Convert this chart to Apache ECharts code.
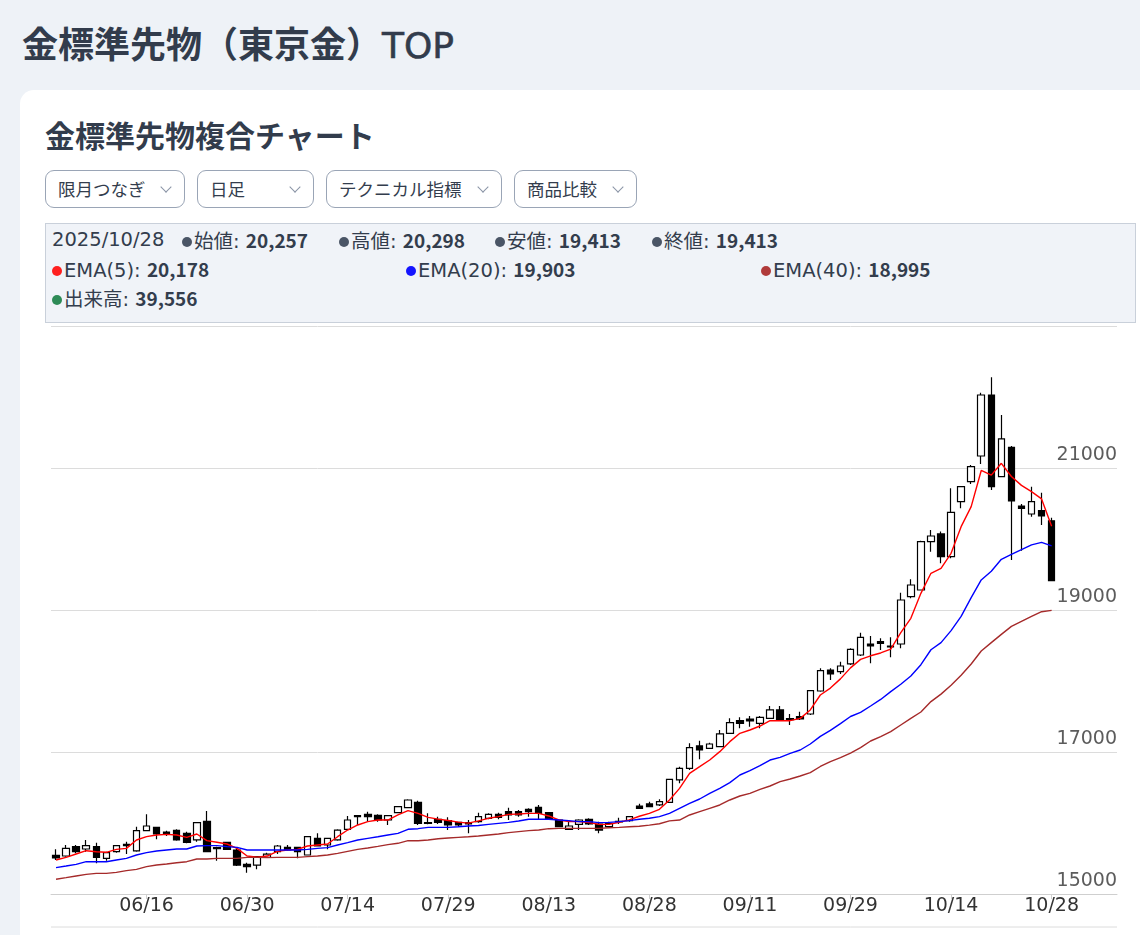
<!DOCTYPE html>
<html lang="ja">
<head>
<meta charset="utf-8">
<script src="https://cdn.jsdelivr.net/npm/echarts/dist/echarts.min.js"></script>
<style>
  html,body{margin:0;padding:0;}
  body{width:1140px;height:935px;overflow:hidden;background:#eef2f7;position:relative;
       font-family:"DejaVu Sans","Noto Sans CJK JP",sans-serif;color:#333d4d;}
  h1{position:absolute;left:22px;top:17px;margin:0;font-size:36px;line-height:50px;font-weight:700;
     font-family:"Noto Sans CJK JP",sans-serif;color:#323c4c;white-space:nowrap;}
  h1 .lat{font-family:"DejaVu Sans",sans-serif;font-weight:400;-webkit-text-stroke:0.6px #323c4c;}
  .card{position:absolute;left:20px;top:90px;width:1160px;height:900px;background:#fff;border-radius:14px;}
  h2{position:absolute;left:45px;top:112px;margin:0;font-size:30px;line-height:44px;font-weight:700;
     font-family:"Noto Sans CJK JP",sans-serif;color:#323c4c;white-space:nowrap;}
  .dd{position:absolute;top:170px;height:36px;border:1px solid #9aa5b6;border-radius:9px;box-sizing:content-box;
      font-size:17.5px;line-height:36px;font-family:"Noto Sans CJK JP",sans-serif;color:#333d4d;background:#fff;}
  .dd span.t{position:absolute;left:12px;top:0;}
  .dd i{position:absolute;top:12px;width:7px;height:7px;border-right:1.3px solid #8a94a6;border-bottom:1.3px solid #8a94a6;transform:rotate(45deg);}
  .info{position:absolute;left:45px;top:223px;width:1089px;height:98px;background:#f0f3f8;border:1px solid #c9d0da;}
  .it{position:absolute;font-size:19.5px;line-height:24px;white-space:nowrap;color:#333d4d;
      font-family:"DejaVu Sans","Noto Sans CJK JP",sans-serif;}
  .it b{font-weight:700;font-family:"Noto Sans CJK JP",sans-serif;font-size:19px;}
  .dot{display:inline-block;width:10px;height:10px;border-radius:50%;margin-right:2px;vertical-align:1px;}
  #chart{position:absolute;left:0;top:325px;width:1140px;height:610px;}
</style>
</head>
<body>
<h1>金標準先物（東京金）<span class="lat">TOP</span></h1>
<div class="card"></div>
<h2>金標準先物複合チャート</h2>
<div class="dd" style="left:45px;width:138px;"><span class="t">限月つなぎ</span><i style="left:116px"></i></div>
<div class="dd" style="left:197px;width:115px;"><span class="t">日足</span><i style="left:93px"></i></div>
<div class="dd" style="left:326px;width:174px;"><span class="t">テクニカル指標</span><i style="left:152px"></i></div>
<div class="dd" style="left:514px;width:121px;"><span class="t">商品比較</span><i style="left:99px"></i></div>
<div class="info"></div>
<div id="infoText"></div>
<div id="chart"></div>
<script>
// ---- data ----
const dates = [
 "06/03","06/04","06/05","06/06","06/09","06/10","06/11","06/12","06/13",
 "06/16","06/17","06/18","06/19","06/20","06/23","06/24","06/25","06/26","06/27",
 "06/30","07/01","07/02","07/03","07/04","07/07","07/08","07/09","07/10","07/11",
 "07/14","07/15","07/16","07/17","07/18","07/22","07/23","07/24","07/25","07/28",
 "07/29","07/30","07/31","08/01","08/04","08/05","08/06","08/07","08/08","08/12",
 "08/13","08/14","08/18","08/19","08/20","08/21","08/22","08/25","08/26","08/27",
 "08/28","08/29","09/01","09/02","09/03","09/04","09/05","09/08","09/09","09/10",
 "09/11","09/12","09/16","09/17","09/18","09/19","09/22","09/24","09/25","09/26",
 "09/29","09/30","10/01","10/02","10/03","10/06","10/07","10/08","10/09","10/10",
 "10/14","10/15","10/16","10/17","10/20","10/21","10/22","10/23","10/24","10/27",
 "10/28"
];
const opens = [
 15545,15535,15667,15634,15667,15502,15596,15681,15606,15892,
 15939,15873,15897,15854,15761,16024,15653,15728,15620,15418,
 15408,15516,15596,15657,15657,15549,15784,15690,15761,15911,
 16103,16122,16108,16042,16146,16216,16291,16005,16052,16033,
 16009,16005,16019,16066,16122,16160,16160,16192,16221,16146,
 16042,15911,15981,16052,15986,15948,16014,16033,16239,16268,
 16254,16291,16606,16770,17085,17052,17075,17263,17441,17465,
 17404,17474,17592,17470,17498,17535,17859,18155,18132,18240,
 18366,18521,18554,18493,18521,19188,19282,19963,20071,19751,
 20526,20808,21169,22028,20878,21291,20465,20352,20399,20257
];
const closes = [
 15507,15643,15596,15681,15516,15582,15681,15700,15892,15958,
 15845,15845,15761,15728,16005,15596,15639,15629,15408,15385,
 15526,15563,15676,15620,15596,15807,15676,15784,15901,16042,
 16089,16089,16042,16103,16230,16324,15995,15995,16009,15972,
 15972,15986,16089,16122,16080,16113,16113,16160,16136,16066,
 15948,15958,16042,15986,15901,15995,16023,16089,16207,16230,
 16301,16615,16770,17061,17028,17113,17254,17413,17404,17437,
 17488,17592,17451,17456,17465,17864,18146,18099,18211,18446,
 18615,18493,18531,18479,19141,19352,19963,20042,19751,20376,
 20737,21019,22028,20737,21409,20535,20432,20526,20324,19413
];
const lows = [
 15479,15526,15573,15596,15432,15470,15582,15563,15596,15892,
 15770,15817,15751,15714,15737,15596,15470,15620,15394,15300,
 15347,15516,15563,15610,15502,15549,15676,15629,15751,15901,
 15972,16019,16019,15972,16136,16216,15972,15981,15986,15901,
 15948,15854,16005,16052,16052,16042,16089,16089,16052,16052,
 15939,15901,15901,15972,15854,15939,15986,16019,16207,16221,
 16239,16286,16559,16747,16897,17042,17066,17263,17333,17357,
 17333,17465,17451,17380,17451,17521,17850,18014,18099,18226,
 18352,18249,18437,18333,18460,19164,19282,19822,19658,19728,
 20432,20775,21057,20690,20869,19704,19836,20315,20197,19413
];
const highs = [
 15629,15690,15690,15761,15723,15596,15690,15737,15948,16122,
 15939,15892,15911,15878,16005,16169,15667,15732,15643,15441,
 15535,15582,15690,15690,15667,15817,15854,15793,15911,16099,
 16113,16160,16122,16103,16239,16333,16315,16136,16089,16080,
 16019,16042,16146,16136,16146,16216,16183,16207,16253,16146,
 16052,16019,16052,16066,16019,16019,16075,16099,16270,16301,
 16333,16615,16794,17122,17160,17132,17310,17474,17488,17507,
 17507,17648,17648,17535,17568,17873,18179,18178,18272,18460,
 18681,18634,18601,18615,19244,19432,19977,20127,20104,20714,
 20737,21042,22061,22277,21747,21310,20493,20737,20653,20298
];
const ema5 = [
 15479,15516,15563,15610,15596,15587,15629,15643,15761,15808,
 15831,15840,15831,15798,15845,15751,15728,15704,15643,15535,
 15520,15535,15600,15620,15629,15676,15690,15704,15807,15901,
 15972,16019,16042,16042,16113,16174,16136,16080,16055,16035,
 16012,15998,16030,16066,16089,16122,16127,16136,16136,16099,
 16042,16019,16019,16005,15981,15981,16010,16045,16095,16136,
 16193,16324,16488,16700,16793,16887,17005,17146,17263,17310,
 17366,17441,17441,17441,17474,17592,17803,17900,18030,18185,
 18305,18355,18395,18450,18680,18883,19235,19517,19587,19798,
 20174,20456,20965,20900,21066,20880,20755,20667,20565,20178
];
const ema20 = [
 15371,15394,15418,15455,15455,15455,15479,15502,15549,15582,
 15606,15620,15634,15634,15676,15681,15681,15667,15657,15620,
 15620,15620,15620,15620,15620,15629,15643,15653,15690,15723,
 15761,15784,15807,15831,15854,15911,15920,15939,15939,15939,
 15948,15958,15965,15981,15995,16009,16028,16052,16052,16052,
 16042,16033,16019,16019,16005,16009,16019,16033,16052,16066,
 16089,16136,16207,16277,16338,16418,16488,16568,16676,16737,
 16808,16887,16925,16981,17028,17113,17220,17305,17400,17500,
 17559,17648,17740,17850,17955,18070,18230,18440,18540,18710,
 18910,19174,19423,19545,19714,19784,19850,19918,19953,19903
];
const ema40 = [
 15207,15230,15254,15277,15291,15291,15305,15329,15347,15385,
 15408,15423,15441,15455,15493,15493,15502,15502,15502,15516,
 15516,15512,15516,15516,15516,15526,15535,15549,15573,15601,
 15629,15648,15671,15695,15714,15751,15751,15761,15779,15789,
 15798,15807,15817,15831,15845,15864,15878,15892,15901,15920,
 15925,15925,15925,15925,15925,15934,15939,15948,15955,15970,
 15990,16030,16042,16113,16160,16207,16254,16324,16380,16418,
 16474,16521,16582,16620,16662,16709,16796,16865,16920,16985,
 17061,17155,17216,17286,17380,17474,17563,17710,17815,17940,
 18080,18240,18423,18540,18657,18770,18840,18911,18976,18995
];
const lastVolume = 39556;
const yTicks = [15000, 17000, 19000, 21000, 23000];
const blankSlots = 6;

// ---- info panel ----
const n = dates.length - 1;
const fmt = v => Math.round(v).toLocaleString('en-US');
const items = [
  {x:52,  y:228, html:'2025/' + dates[n]},
  {x:182, y:228, dot:'#4a5566', html:'始値: <b>'+fmt(opens[n])+'</b>'},
  {x:339, y:228, dot:'#4a5566', html:'高値: <b>'+fmt(highs[n])+'</b>'},
  {x:495, y:228, dot:'#4a5566', html:'安値: <b>'+fmt(lows[n])+'</b>'},
  {x:652, y:228, dot:'#4a5566', html:'終値: <b>'+fmt(closes[n])+'</b>'},
  {x:52,  y:257, dot:'#ff1f1f', html:'EMA(5): <b>'+fmt(ema5[n])+'</b>'},
  {x:406, y:257, dot:'#1414ff', html:'EMA(20): <b>'+fmt(ema20[n])+'</b>'},
  {x:761, y:257, dot:'#b03a3a', html:'EMA(40): <b>'+fmt(ema40[n])+'</b>'},
  {x:52,  y:286, dot:'#2e8b57', html:'出来高: <b>'+fmt(lastVolume)+'</b>'}
];
const box = document.getElementById('infoText');
items.forEach(it => {
  const d = document.createElement('div');
  d.className = 'it';
  d.style.left = it.x + 'px'; d.style.top = it.y + 'px';
  d.innerHTML = (it.dot ? '<span class="dot" style="background:'+it.dot+'"></span>' : '') + it.html;
  box.appendChild(d);
});

// ---- chart ----
const cats = dates.concat(Array(blankSlots).fill(''));
const candles = dates.map((d,i) => [opens[i], closes[i], lows[i], highs[i]]);
const showIdx = idx => idx >= 9 && idx <= n && (idx - 9) % 10 === 0;

const chart = echarts.init(document.getElementById('chart'), null, {renderer:'canvas'});
chart.setOption({
  animation:false,
  grid:{left:51, right:23, top:1, bottom:41},
  xAxis:{
    type:'category', data:cats, boundaryGap:true,
    axisLine:{lineStyle:{color:'#cfcfcf'}},
    axisTick:{show:true, alignWithLabel:true, interval:(i)=>showIdx(i), length:5, lineStyle:{color:'#cfcfcf'}},
    axisLabel:{interval:(i)=>showIdx(i), color:'#333', fontSize:19, margin:3, fontFamily:'DejaVu Sans'},
    splitLine:{show:false}
  },
  yAxis:{
    type:'value', position:'right', min:yTicks[0], max:yTicks[yTicks.length-1], interval:yTicks[1]-yTicks[0],
    axisLine:{show:false}, axisTick:{show:false},
    axisLabel:{inside:true, margin:0, color:'#5c5c5c', fontSize:19, fontFamily:'DejaVu Sans',
               verticalAlign:'bottom', padding:[0,0,3,0], showMaxLabel:false,
               formatter:(v)=>String(v)},
    splitLine:{lineStyle:{color:'#dcdcdc'}}
  },
  graphic:[{type:'line', shape:{x1:51, y1:602, x2:1117, y2:602}, style:{stroke:'#dcdcdc', lineWidth:1}}],
  series:[
    {type:'candlestick', data:candles, barWidth:7,
     itemStyle:{color:'#ffffff', color0:'#000000', borderColor:'#000000', borderColor0:'#000000', borderWidth:1.2}},
    {type:'line', data:ema5, showSymbol:false, lineStyle:{color:'#ff0000', width:1.4}, z:3},
    {type:'line', data:ema20, showSymbol:false, lineStyle:{color:'#0000ff', width:1.4}, z:3},
    {type:'line', data:ema40, showSymbol:false, lineStyle:{color:'#a52a2a', width:1.4}, z:3}
  ]
});
</script>
</body>
</html>
